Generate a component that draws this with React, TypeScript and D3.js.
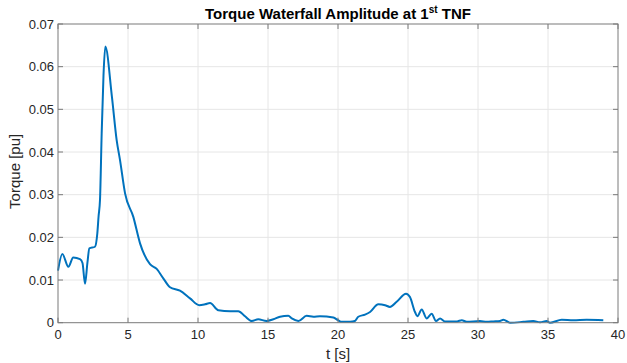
import React from "react";
import * as d3 from "d3";

// Time axis (s) and torque amplitude (pu) samples of the waterfall trace
const timeS: number[] = [
  0, 0.31, 0.74, 1.09, 1.57, 1.75, 1.93, 2.1, 2.24, 2.64, 2.81, 2.9, 3.0, 3.12, 3.25, 3.38,
  3.85, 4.19, 4.43, 4.79, 5.38, 5.86, 6.57, 7.05, 7.52, 8.0, 8.71, 9.43, 10.09, 10.5,
  10.86, 11.45, 12.3, 12.88, 13.36, 13.84, 14.3, 14.9, 15.38, 15.86, 16.45, 16.7, 17.17,
  17.76, 18.24, 18.71, 19.67, 20.0, 20.26, 20.86, 21.21, 21.45, 21.93, 22.29, 22.88,
  23.36, 23.71, 24.19, 24.86, 25.14, 25.5, 25.67, 25.98, 26.33, 26.69, 27.0, 27.29,
  27.64, 28.5, 28.84, 29.19, 30.14, 30.62, 31.1, 31.57, 31.81, 32.29, 33.24, 33.95,
  34.43, 34.9, 35.14, 35.98, 36.81, 37.76, 38.95,
];
const torquePu: number[] = [
  0.0122, 0.0161, 0.0131, 0.0153, 0.0149, 0.014, 0.0091, 0.014, 0.0174, 0.0178, 0.021,
  0.025, 0.0288, 0.0444, 0.058, 0.0647, 0.053, 0.0428, 0.0381, 0.0303, 0.0248, 0.0186,
  0.0137, 0.0126, 0.0104, 0.0083, 0.0075, 0.0057, 0.0041, 0.0043, 0.0046, 0.0029,
  0.0027, 0.0027, 0.0015, 0.0004, 0.0008, 0.0004, 0.0008, 0.0014, 0.0016, 0.001,
  0.0004, 0.0016, 0.0014, 0.0015, 0.0012, 0.0006, 0.0002, 0.0002, 0.0004, 0.0014,
  0.0019, 0.0025, 0.0043, 0.0041, 0.0037, 0.0049, 0.0068, 0.006, 0.0025, 0.0015,
  0.0031, 0.001, 0.0021, 0.0004, 0.001, 0.0003, 0.0003, 0.0006, 0.0002, 0.0004,
  0.0002, 0.0003, 0.0004, 0.0007, 0.0, 0.0002, 0.0004, 0.0001, 0.0004, 0.0, 0.0007,
  0.0006, 0.0007, 0.0006,
];

const xTicks: number[] = [0, 5, 10, 15, 20, 25, 30, 35, 40];
const yTicks: number[] = [0, 0.01, 0.02, 0.03, 0.04, 0.05, 0.06, 0.07];

const W = 627;
const H = 363;
const left = 58;
const right = 618;
const top = 24;
const bottom = 322.7;
const FONT = "'Liberation Sans', Arial, Helvetica, sans-serif";

export default function App() {
  const x = d3.scaleLinear().domain([0, 40]).range([left, right]);
  const y = d3.scaleLinear().domain([0, 0.07]).range([bottom, top]);

  const points: [number, number][] = timeS.map((t, i) => [t, torquePu[i]]);
  const line = d3
    .line<[number, number]>()
    .x((d) => x(d[0]))
    .y((d) => y(d[1]))
    .curve(d3.curveMonotoneX);

  const tickLen = 5;
  const axisColor = "#7a7a7a";
  const textColor = "#262626";

  return (
    <svg
      width={W}
      height={H}
      style={{ position: "absolute", left: 0, top: 0, background: "#fff" }}
      fontFamily={FONT}
    >
      <rect x={0} y={0} width={W} height={H} fill="#fff" />
      {/* grid */}
      {xTicks.slice(1, -1).map((t) => (
        <line key={"gx" + t} x1={x(t)} x2={x(t)} y1={top} y2={bottom} stroke="#e6e6e6" strokeWidth={1} />
      ))}
      {yTicks.slice(1, -1).map((t) => (
        <line key={"gy" + t} x1={left} x2={right} y1={y(t)} y2={y(t)} stroke="#e6e6e6" strokeWidth={1} />
      ))}

      {/* data trace */}
      <path d={line(points) || ""} fill="none" stroke="#0072BD" strokeWidth={2} strokeLinejoin="round" />

      {/* box and ticks */}
      <rect x={left} y={top} width={right - left} height={bottom - top} fill="none" stroke={axisColor} strokeWidth={1} />
      {xTicks.map((t) => (
        <g key={"tx" + t}>
          <line x1={x(t)} x2={x(t)} y1={bottom} y2={bottom - tickLen} stroke={axisColor} />
          <line x1={x(t)} x2={x(t)} y1={top} y2={top + tickLen} stroke={axisColor} />
          <text x={x(t)} y={339} textAnchor="middle" fontSize={13} fill={textColor}>
            {t}
          </text>
        </g>
      ))}
      {yTicks.map((t) => (
        <g key={"ty" + t}>
          <line x1={left} x2={left + tickLen} y1={y(t)} y2={y(t)} stroke={axisColor} />
          <line x1={right} x2={right - tickLen} y1={y(t)} y2={y(t)} stroke={axisColor} />
          <text x={54} y={y(t)} dy="0.35em" textAnchor="end" fontSize={13} fill={textColor}>
            {t === 0 ? "0" : d3.format(".2f")(t)}
          </text>
        </g>
      ))}

      {/* labels */}
      <text x={(left + right) / 2} y={359} textAnchor="middle" fontSize={15} fill={textColor}>
        t [s]
      </text>
      <text
        transform={`translate(20, ${(top + bottom) / 2 - 2}) rotate(-90)`}
        textAnchor="middle"
        fontSize={15}
        fill={textColor}
      >
        Torque [pu]
      </text>
      <text x={(left + right) / 2} y={19} textAnchor="middle" fontSize={15} fontWeight="bold" fill="#000">
        Torque Waterfall Amplitude at 1
        <tspan dy={-6} fontSize={10}>st</tspan>
        <tspan dy={6}> TNF</tspan>
      </text>
    </svg>
  );
}
